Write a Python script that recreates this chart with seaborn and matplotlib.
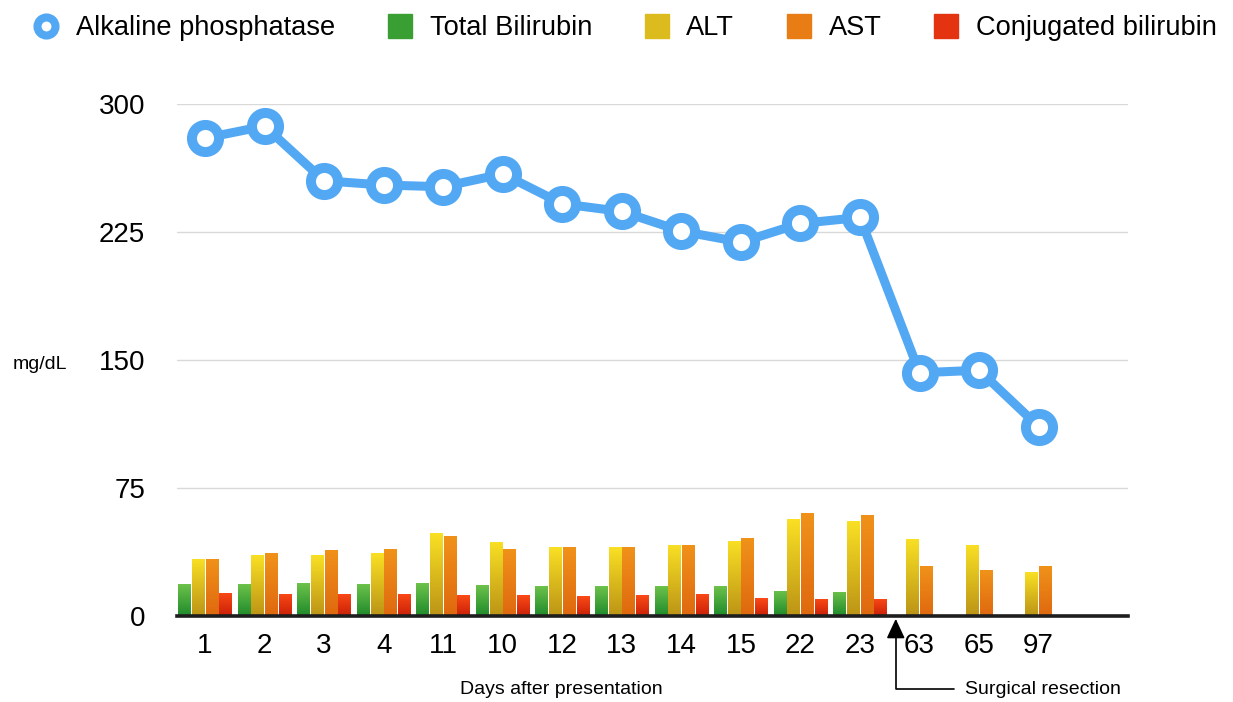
import matplotlib
matplotlib.use("Agg")
import matplotlib.pyplot as plt
import matplotlib.colors as mcolors
from matplotlib.lines import Line2D
import seaborn as sb
import pandas as pd
import numpy as np

# Liver panel over days after presentation
days = ["1", "2", "3", "4", "11", "10", "12", "13", "14", "15", "22", "23", "63", "65", "97"]
alk_phos = [280, 287, 255, 252.5, 251.5, 259, 241.5, 237, 225.5, 219, 230, 233.5, 142.5, 144, 111]
total_bili = [18.6, 18.6, 19.3, 18.6, 19.3, 18.0, 17.4, 17.4, 17.4, 17.4, 14.8, 14.2, 0.5, 0.5, 0.5]
alt = [33.6, 35.5, 35.5, 36.9, 48.6, 43.5, 40.4, 40.4, 41.8, 44.1, 56.6, 55.5, 45.3, 41.8, 25.6]
ast = [33.6, 36.9, 38.7, 39.2, 46.9, 39.2, 40.4, 40.4, 41.8, 45.5, 60.3, 59.2, 29.1, 26.8, 29.1]
conj_bili = [13.7, 12.9, 12.9, 12.9, 12.3, 12.3, 11.7, 12.3, 12.9, 10.5, 10.0, 10.0, 0, 0, 0]

bar_names = ["Total Bilirubin", "ALT", "AST", "Conjugated bilirubin"]
bar_series = [total_bili, alt, ast, conj_bili]

# gradient (top, bottom) and flat colour for the legend
grad_colors = {
    "Total Bilirubin": ("#6cc24a", "#1f8a2b", "#3a9f33"),
    "ALT": ("#f9e024", "#bc9416", "#dcbb1e"),
    "AST": ("#f0921a", "#df680f", "#e87d15"),
    "Conjugated bilirubin": ("#fb4a17", "#c92007", "#e43310"),
}
blue = "#53a8f4"

df_bars = pd.DataFrame([(d, name, v) for name, vals in zip(bar_names, bar_series)
                        for d, v in zip(days, vals)], columns=["day", "analyte", "value"])
df_line = pd.DataFrame({"day": days, "value": alk_phos})

sb.set_style("white")
plt.rcParams["font.family"] = ["Liberation Sans", "DejaVu Sans"]
plt.rcParams.update({"text.color": "black", "axes.labelcolor": "black",
                     "xtick.color": "black", "ytick.color": "black"})

fig = plt.figure(figsize=(12.33, 7.02), dpi=100)
ax = fig.add_axes([0.1436, 0.1225, 0.7712, 0.7294])

sb.barplot(data=df_bars, x="day", y="value", hue="analyte", order=days, hue_order=bar_names,
           palette=[grad_colors[n][2] for n in bar_names], width=0.92, gap=0.08,
           legend=False, ax=ax, linewidth=0, zorder=2)


def shade(patch, top, bottom):
    x, y = patch.get_x(), patch.get_y()
    w, h = patch.get_width(), patch.get_height()
    if h <= 0:
        return
    t = np.linspace(0, 1, 64)[:, None, None]
    c0 = np.array(mcolors.to_rgb(top))[None, None, :]
    c1 = np.array(mcolors.to_rgb(bottom))[None, None, :]
    img = c0 * (1 - t) + c1 * t
    im = ax.imshow(img, extent=(x, x + w, y, y + h), origin="upper", aspect="auto",
                   interpolation="bilinear", zorder=2.1)
    im.set_clip_path(patch)


for cont, name in zip(ax.containers, bar_names):
    for p in cont.patches:
        shade(p, grad_colors[name][0], grad_colors[name][1])

sb.pointplot(data=df_line, x="day", y="value", order=days, color=blue, errorbar=None,
             markers="o", linestyles="-", ax=ax)
ln = ax.lines[-1]
ln.set_linewidth(6.5)
ln.set_markersize(19.5)
ln.set_markeredgewidth(7.2)
ln.set_markerfacecolor("white")
ln.set_markeredgecolor(blue)
ln.set_zorder(5)
ln.set_clip_on(False)

ax.set_xlim(-0.47, 15.5)
ax.set_ylim(0, 300)
ax.set_yticks([0, 75, 150, 225, 300])
ax.yaxis.grid(True, color="#d9d9d9", linewidth=1)
ax.set_axisbelow(True)
for s in ["left", "right", "top"]:
    ax.spines[s].set_visible(False)
ax.spines["bottom"].set_linewidth(2.6)
ax.spines["bottom"].set_color("#1e1e1e")
ax.spines["bottom"].set_zorder(3)
ax.tick_params(axis="both", length=0, labelsize=20)
ax.tick_params(axis="y", pad=23)
ax.tick_params(axis="x", pad=12)

ax.set_ylabel("mg/dL", rotation=0, fontsize=14, ha="center", va="center")
ax.yaxis.set_label_coords(-0.144, 0.492)
ax.set_xlabel("Days after presentation", fontsize=14, va="center")
ax.xaxis.set_label_coords(0.404, -0.1426)

ax.annotate("Surgical resection", xy=(11.6, 0), xytext=(12.77, -42.8), textcoords="data",
            fontsize=14, ha="left", va="center", annotation_clip=False,
            arrowprops=dict(arrowstyle="-|>,head_length=0.86,head_width=0.4", color="black",
                            lw=1.2, connectionstyle="angle,angleA=0,angleB=90,rad=0",
                            shrinkA=6, shrinkB=2))

handles = [Line2D([], [], marker="o", color=blue, markerfacecolor="white", markersize=13,
                  markeredgewidth=5.8, linestyle="none")]
for n in bar_names:
    handles.append(Line2D([], [], marker="s", color=grad_colors[n][2], markersize=17,
                          linestyle="none"))
fig.legend(handles, ["Alkaline phosphatase"] + bar_names, loc="center left",
           bbox_to_anchor=(0.027, 0.960), ncol=5, frameon=False, fontsize=19.6,
           handlelength=0.95, handletextpad=0.62, columnspacing=1.9, borderaxespad=0, borderpad=0)

fig.savefig("out.png", dpi=100)
